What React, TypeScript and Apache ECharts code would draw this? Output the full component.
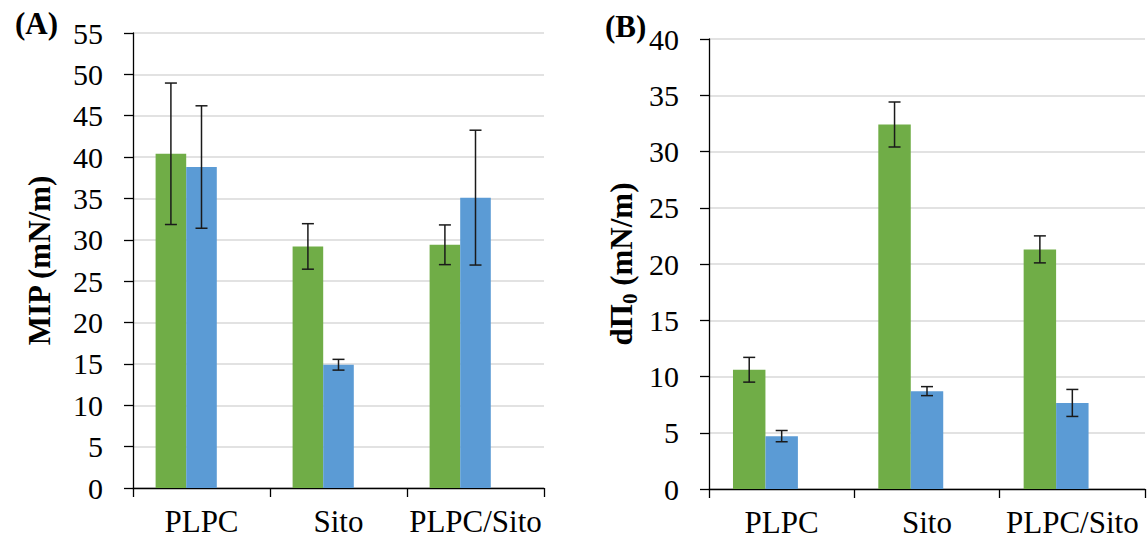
import React, { useEffect, useRef } from "react";
import * as echarts from "echarts";

const categories = ["PLPC", "Sito", "PLPC/Sito"];
const mipGreen = [40.4, 29.2, 29.4];
const mipGreenErr = [8.55, 2.75, 2.4];
const mipBlue = [38.8, 14.9, 35.1];
const mipBlueErr = [7.4, 0.65, 8.15];
const dpiGreen = [10.6, 32.4, 21.3];
const dpiGreenErr = [1.1, 2.0, 1.2];
const dpiBlue = [4.7, 8.7, 7.65];
const dpiBlueErr = [0.5, 0.4, 1.2];

const GREEN = "#70AD47";
const BLUE = "#5B9BD5";
const FONT = "'Liberation Serif', 'Times New Roman', Times, serif";
const CAT_GAP = 0.33;

function errData(vals: number[], errs: number[], s: number) {
  return vals.map((v, i) => [i, v, errs[i], s]);
}

const renderErr = (params: any, api: any) => {
  const x = api.value(0);
  const v = api.value(1);
  const e = api.value(2);
  const s = api.value(3);
  const band = api.size([1, 0])[0];
  const w = (band * (1 - CAT_GAP)) / 3;
  const c = api.coord([x, v]);
  const cx = c[0] + (s - 1) * w;
  const top = api.coord([x, v + e])[1];
  const bot = api.coord([x, v - e])[1];
  const half = 6;
  const st = { stroke: "#1a1a1a", lineWidth: 1.5 };
  return {
    type: "group",
    children: [
      { type: "line", shape: { x1: cx, y1: top, x2: cx, y2: bot }, style: st },
      { type: "line", shape: { x1: cx - half, y1: top, x2: cx + half, y2: top }, style: st },
      { type: "line", shape: { x1: cx - half, y1: bot, x2: cx + half, y2: bot }, style: st },
    ],
  };
};

function xAxis(gridIndex: number) {
  return {
    type: "category",
    gridIndex,
    data: categories,
    boundaryGap: true,
    axisLine: { show: true, lineStyle: { color: "#000", width: 1.3 } },
    axisTick: { show: true, length: 9, inside: false, alignWithLabel: false, lineStyle: { color: "#000", width: 1.3 } },
    axisLabel: { fontFamily: FONT, fontSize: 31, color: "#000", margin: 18, interval: 0 },
  };
}

function yAxis(gridIndex: number, max: number, name: string, nameGap: number, rich?: any) {
  return {
    type: "value",
    gridIndex,
    min: 0,
    max,
    interval: 5,
    name,
    nameLocation: "middle",
    nameGap,
    nameRotate: 90,
    nameTextStyle: rich
      ? { rich }
      : { fontFamily: FONT, fontSize: 31, fontWeight: "bold", color: "#000" },
    axisLine: { show: true, lineStyle: { color: "#000", width: 1.3 } },
    axisTick: { show: true, length: 9, inside: false, lineStyle: { color: "#000", width: 1.3 } },
    axisLabel: { fontFamily: FONT, fontSize: 30, color: "#000", margin: 30 },
    splitLine: { show: true, lineStyle: { color: "#d9d9d9", width: 1.5 } },
  };
}

function bars(idx: number, green: number[], blue: number[]) {
  const common = {
    type: "bar",
    xAxisIndex: idx,
    yAxisIndex: idx,
    barGap: "0%",
    barCategoryGap: CAT_GAP * 100 + "%",
  };
  return [
    { ...common, name: "g" + idx, data: green, itemStyle: { color: GREEN } },
    { ...common, name: "b" + idx, data: blue, itemStyle: { color: BLUE } },
    { ...common, name: "h" + idx, data: categories.map(() => "-"), itemStyle: { color: "transparent" } },
  ];
}

function errSeries(idx: number, vals: number[], errs: number[], s: number) {
  return {
    type: "custom",
    xAxisIndex: idx,
    yAxisIndex: idx,
    renderItem: renderErr,
    data: errData(vals, errs, s),
    encode: { x: 0, y: 1 },
    z: 10,
  };
}

export default function App() {
  const ref = useRef<HTMLDivElement>(null);
  useEffect(() => {
    if (!ref.current) return;
    const chart = echarts.init(ref.current, undefined, { renderer: "svg" });
    const richB = {
      b: { fontFamily: FONT, fontSize: 31, fontWeight: "bold", color: "#000" },
      s: { fontFamily: FONT, fontSize: 21, fontWeight: "bold", color: "#000", padding: [16, 0, 0, 0] },
    };
    chart.setOption({
      animation: false,
      backgroundColor: "#fff",
      title: [
        { text: "(A)", left: 10, top: 3, textStyle: { fontFamily: FONT, fontSize: 31, fontWeight: "bold", color: "#000" } },
        { text: "(B)", left: 600, top: 6, textStyle: { fontFamily: FONT, fontSize: 31, fontWeight: "bold", color: "#000" } },
      ],
      grid: [
        { left: 133, top: 33, width: 411, height: 455 },
        { left: 709, top: 39, width: 436, height: 450 },
      ],
      xAxis: [xAxis(0), xAxis(1)],
      yAxis: [
        yAxis(0, 55, "MIP (mN/m)", 78),
        yAxis(1, 40, "{b|dΠ}{s|0}{b| (mN/m)}", 69, richB),
      ],
      series: [
        ...bars(0, mipGreen, mipBlue),
        ...bars(1, dpiGreen, dpiBlue),
        errSeries(0, mipGreen, mipGreenErr, 0),
        errSeries(0, mipBlue, mipBlueErr, 1),
        errSeries(1, dpiGreen, dpiGreenErr, 0),
        errSeries(1, dpiBlue, dpiBlueErr, 1),
      ],
    });
    return () => chart.dispose();
  }, []);
  return (
    <div
      ref={ref}
      style={{ position: "fixed", left: 0, top: 0, width: 1148, height: 542, background: "#fff" }}
    />
  );
}
